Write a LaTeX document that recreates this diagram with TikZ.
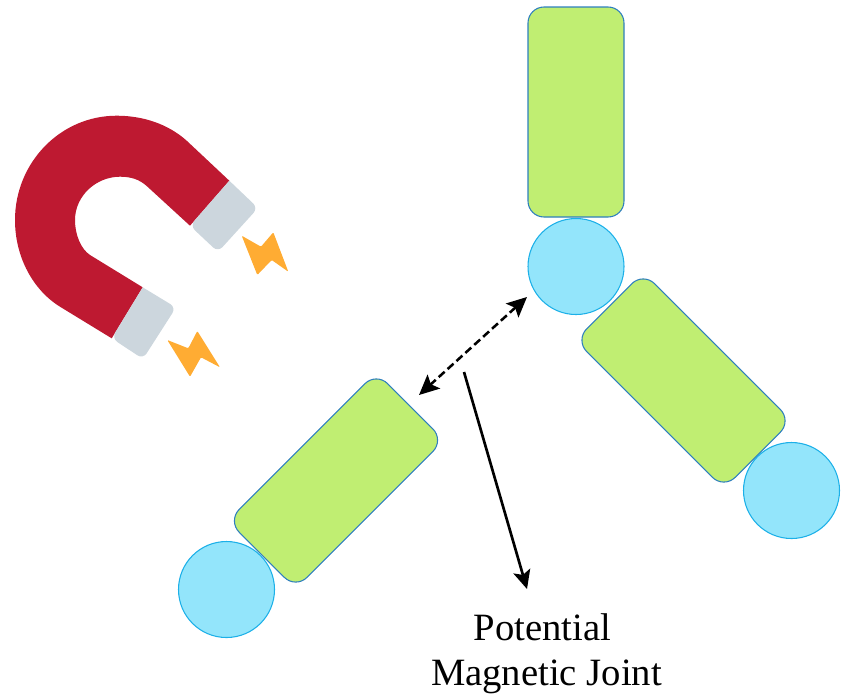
\documentclass[tikz,border=0pt]{standalone}
\usepackage{fontspec}
\setmainfont{Liberation Serif}
\usetikzlibrary{arrows.meta}
\definecolor{armfill}{HTML}{C0EE72}
\definecolor{armline}{HTML}{2E7FBE}
\definecolor{ballfill}{HTML}{93E5FB}
\definecolor{ballline}{HTML}{1CB0E8}
\definecolor{magnetred}{HTML}{BE1931}
\definecolor{magnetcap}{HTML}{CCD6DD}
\definecolor{sparkorange}{HTML}{FFAC33}
\tikzset{
	arm/.style={draw=armline,fill=armfill,line width=0.8pt,rounded corners=12pt,minimum width=72pt,minimum height=157.5pt,inner sep=0pt},
	ball/.style={circle,draw=ballline,fill=ballfill,line width=0.8pt,minimum size=72pt,inner sep=0pt},
	pointer/.style={-{Stealth[length=14pt,width=13pt,inset=3pt]},line width=2pt},
	twoway/.style={{Stealth[length=15pt,width=14pt,inset=3pt]}-{Stealth[length=15pt,width=14pt,inset=3pt]},line width=1.9pt,dash pattern=on 6pt off 3pt},
	caption/.style={font=\fontsize{29}{32}\selectfont,inner sep=0pt,anchor=base}
}
\begin{document}
\begin{tikzpicture}[x=0.75pt,y=-0.75pt]
	\useasboundingbox (0,0) rectangle (841,694);
	% Magnet
	\fill[magnetred] (229.3,180.7) -- (186.7,140.7)
		.. controls (168,124) and (143,115.7) .. (116.7,115.7)
		.. controls (60,115.7) and (15,163) .. (15,220)
		.. controls (15,257) and (33,290) .. (60,306.7)
		-- (111.7,338.3) -- (142.7,287.3) -- (90,255)
		.. controls (81,249) and (75,235) .. (75,220)
		.. controls (75,196) and (96,176.7) .. (120,176.7)
		.. controls (130,176.7) and (139,179) .. (146.7,186)
		-- (190,225.7) -- cycle;
	\fill[magnetcap,rounded corners=5pt] (229.3,180.7) -- (258,208) -- (218,252) -- (190,225.7) [sharp corners] -- cycle;
	\fill[magnetcap,rounded corners=5pt] (142.7,287.3) -- (176,307.5) -- (143,359) -- (111.7,338.3) [sharp corners] -- cycle;
	\fill[sparkorange,rounded corners=0.8pt] (241.7,235.7) -- (261,246.7) -- (273.3,232.3) -- (288.3,271.7) -- (271.7,260) -- (257.3,275) -- cycle;
	\fill[sparkorange,rounded corners=0.8pt] (167.3,340) -- (188.3,348.3) -- (197.3,331) -- (220,367.3) -- (201,357.3) -- (190,376.7) -- cycle;
	% Arms and balls
	\node[arm] (arm_top) at (576,112) {};
	\node[arm,rotate=45] (arm_right) at (683.5,380.5) {};
	\node[arm,rotate=-45] (arm_left) at (336,480.5) {};
	\node[ball] (ball_top) at (576,266.5) {};
	\node[ball] (ball_right) at (791.5,490.5) {};
	\node[ball] (ball_left) at (226.5,589.5) {};
	% Labels
	\node[caption] (label_a) at (542.5,640) {Potential};
	\node[caption] (label_b) at (546.5,685) {Magnetic Joint};
	% Free ends of the arrows
	\coordinate (gap_a) at (527,297);
	\coordinate (gap_b) at (419,395);
	\coordinate (point_a) at (464,372);
	\coordinate (point_b) at (527,589);
	\draw[twoway] (gap_a) -- (gap_b);
	\draw[pointer] (point_a) -- (point_b);
\end{tikzpicture}
\end{document}
